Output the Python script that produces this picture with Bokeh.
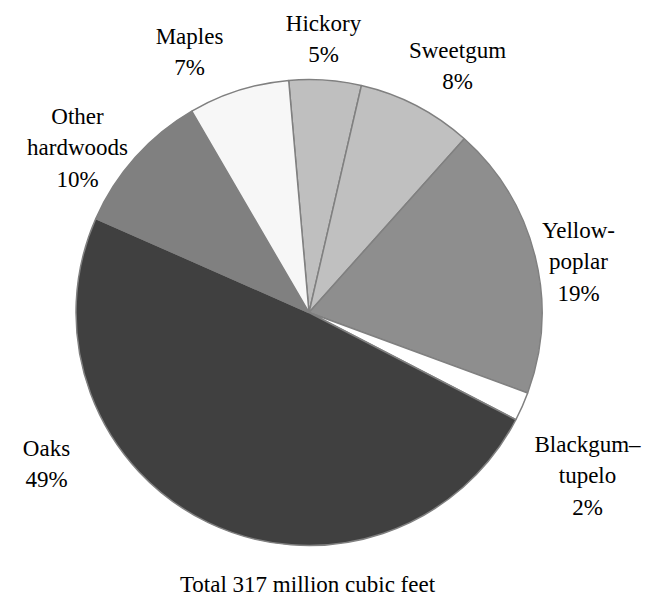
import math
from bokeh.plotting import figure
from bokeh.models import Range1d, ColumnDataSource
from bokeh.core.properties import value
from bokeh.embed import file_html
from bokeh.resources import INLINE

# ---- data (clockwise from top) ----
species = ["Hickory", "Sweetgum", "Yellow-\npoplar", "Blackgum\u2013\ntupelo",
           "Oaks", "Other\nhardwoods", "Maples"]
shares = [5, 8, 19, 2, 49, 10, 7]
colors = ["#bfbfbf", "#c0c0c0", "#8e8e8e", "#ffffff", "#404040", "#808080", "#f7f7f7"]
total_text = "Total 317 million cubic feet"

# ---- layout (page pixels, origin top-left) ----
W, H = 651, 599
def dx(px):
    return px
def dy(py):
    return H - py

cx, cy, R = dx(308.5), dy(312), 233
start_deg = -5.0  # clockwise from 12 o'clock
# label anchors: (center x, first-line baseline y) in page px
label_pos = [(323, 27), (457, 54), (578, 234), (587, 448), (46, 452), (77, 120), (189, 40)]
line_gap = 29
descent = 4
FONT = "Liberation Serif"
FSIZE = "23px"

p = figure(width=W, height=H, output_backend="svg", toolbar_location=None,
           x_range=Range1d(0, W), y_range=Range1d(0, H), min_border=0,
           x_axis_location=None, y_axis_location=None, title=None)
p.grid.visible = False
p.outline_line_color = None
p.background_fill_color = "white"
p.border_fill_color = "white"

total = sum(shares)
starts, ends = [], []
cum = start_deg
for s in shares:
    a0 = cum
    a1 = cum + s / total * 360.0
    starts.append(math.radians(90 - a0))
    ends.append(math.radians(90 - a1))
    cum = a1

src = ColumnDataSource(dict(start=starts, end=ends, color=colors))
p.wedge(x=cx, y=cy, radius=R, start_angle="start", end_angle="end",
        direction="clock", fill_color="color", line_color="#808080",
        line_width=1.5, source=src)

# multi-line slice labels, anchored at the top of the first line
lx_, ly_, lt_ = [], [], []
for name, s, (lx, ly) in zip(species, shares, label_pos):
    lx_.append(dx(lx))
    ly_.append(dy(ly - 17))
    lt_.append(name + "\n" + f"{s}%")
p.text(x=lx_, y=ly_, text=lt_, text_align="center", text_baseline="top",
       text_line_height=line_gap / 23.0,
       text_font=value(FONT), text_font_size=FSIZE, text_color="#000000")

# total caption
p.text(x=[dx(307)], y=[dy(592 + descent)], text=[total_text], text_align="center",
       text_font=value(FONT), text_font_size=FSIZE, text_color="#000000")

open("out.html", "w").write(file_html(p, INLINE))
